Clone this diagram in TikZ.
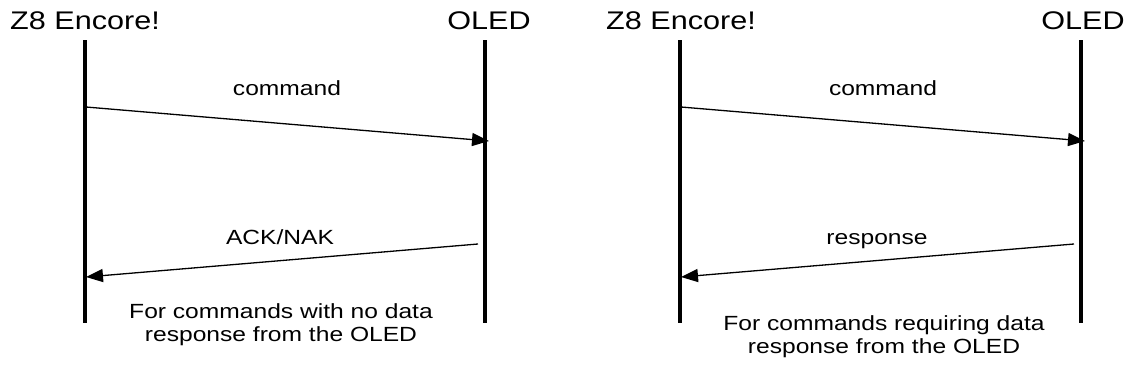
\documentclass[tikz,border=0pt]{standalone}
\usepackage{fontspec}
\setmainfont[FakeStretch=1.2]{Liberation Sans}
\usetikzlibrary{arrows.meta}
\tikzset{
  lifeline/.style={line width=3.8pt},
  msg/.style={line width=1.3pt, -{Triangle[length=17pt,width=13pt]}},
  title/.style={anchor=base, inner sep=0pt, font=\fontsize{25.5}{30}\selectfont},
  lbl/.style={anchor=base, inner sep=0pt, font=\fontsize{20.5}{24}\selectfont},
  note/.style={anchor=base, inner sep=0pt, align=center, font=\fontsize{20.5}{22.5}\selectfont}
}
\begin{document}
\begin{tikzpicture}[x=1pt,y=-1pt]
\useasboundingbox (0,0) rectangle (1125,383);
% ---------- left panel ----------
\node[title] (z1) at (85,29) {Z8 Encore!};
\node[title] (o1) at (489,29) {OLED};
\coordinate (z1t) at (85,40);
\coordinate (z1b) at (85,323);
\coordinate (o1t) at (485,40);
\coordinate (o1b) at (485,323);
\draw[lifeline] (z1t) -- (z1b);
\draw[lifeline] (o1t) -- (o1b);
\coordinate (c1s) at (86,107);
\coordinate (c1e) at (489,141);
\coordinate (r1s) at (478,244);
\coordinate (r1e) at (86,277);
\draw[msg] (c1s) -- (c1e);
\draw[msg] (r1s) -- (r1e);
\node[lbl] (lc1) at (287,95) {command};
\node[lbl] (la1) at (280,244) {ACK/NAK};
\node[note] (n1) at (281,341) {For commands with no data\\response from the OLED};
% ---------- right panel ----------
\node[title] (z2) at (681,29) {Z8 Encore!};
\node[title] (o2) at (1083,29) {OLED};
\coordinate (z2t) at (680,40);
\coordinate (z2b) at (680,323);
\coordinate (o2t) at (1081,40);
\coordinate (o2b) at (1081,323);
\draw[lifeline] (z2t) -- (z2b);
\draw[lifeline] (o2t) -- (o2b);
\coordinate (c2s) at (681,107);
\coordinate (c2e) at (1085,141);
\coordinate (r2s) at (1074,244);
\coordinate (r2e) at (681,277);
\draw[msg] (c2s) -- (c2e);
\draw[msg] (r2s) -- (r2e);
\node[lbl] (lc2) at (883,95) {command};
\node[lbl] (la2) at (877,244) {response};
\node[note] (n2) at (884,353) {For commands requiring data\\response from the OLED};
\end{tikzpicture}
\end{document}
